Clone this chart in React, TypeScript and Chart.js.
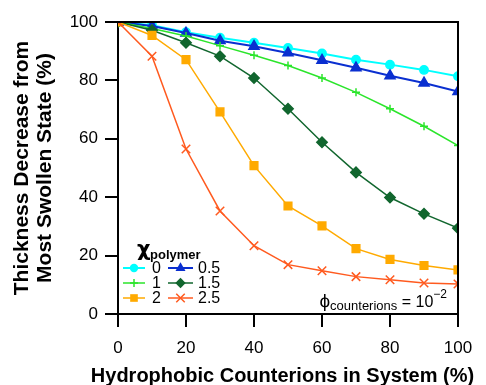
import React, { useEffect, useRef } from 'react';
import { Chart, registerables } from 'chart.js';

Chart.register(...registerables);

// ---- Data ----
const xValues = [0, 10, 20, 30, 40, 50, 60, 70, 80, 90, 100];
const seriesLabels = ['0', '0.5', '1', '1.5', '2', '2.5'];
const chi0 = [100, 98.9, 96.5, 94.6, 92.9, 91.1, 89.2, 87.1, 85.4, 83.6, 81.4];
const chi05 = [100, 98.6, 96.2, 93.6, 91.7, 89.4, 86.9, 84.3, 81.6, 79.1, 76.2];
const chi1 = [100, 97.8, 95.2, 91.9, 88.6, 85.1, 80.8, 75.9, 70.3, 64.3, 57.7];
const chi15 = [100, 97.2, 92.9, 88.3, 80.8, 70.3, 58.8, 48.5, 39.9, 34.3, 29.4];
const chi2 = [100, 95.4, 87.1, 69.2, 50.8, 37.0, 30.2, 22.4, 18.7, 16.6, 15.1];
const chi25 = [100, 88.3, 56.5, 35.3, 23.4, 16.9, 14.8, 12.8, 11.7, 10.6, 10.3];
const xTicks = [0, 20, 40, 60, 80, 100];
const yTicks = [0, 20, 40, 60, 80, 100];
const xTitle = 'Hydrophobic Counterions in System (%)';
const yTitle = ['Thickness Decrease from', 'Most Swollen State (%)'];

const seriesValues = [chi0, chi05, chi1, chi15, chi2, chi25];
const seriesColors = ['#00FFFF', '#0A2FD0', '#2BE52B', '#11662E', '#FFAA00', '#FF5A1F'];
const seriesStyles = ['circle', 'triangle', 'cross', 'rectRot', 'rect', 'crossRot'];
const seriesRadius = [4.2, 5.8, 4, 5.2, 5.4, 6];
const seriesLineWidth = [2, 2, 1.5, 1.5, 1.5, 1.5];

const FONT = "'Liberation Sans', Arial, sans-serif";

function drawMarker(ctx: CanvasRenderingContext2D, style: string, x: number, y: number, r: number, color: string) {
  ctx.save();
  ctx.fillStyle = color;
  ctx.strokeStyle = color;
  ctx.lineWidth = 1.5;
  ctx.beginPath();
  if (style === 'circle') {
    ctx.arc(x, y, r, 0, Math.PI * 2);
    ctx.fill();
  } else if (style === 'triangle') {
    for (let k = 0; k < 3; k++) {
      const a = (k * 2 * Math.PI) / 3;
      const px = x + Math.sin(a) * r;
      const py = y - Math.cos(a) * r;
      if (k === 0) ctx.moveTo(px, py); else ctx.lineTo(px, py);
    }
    ctx.closePath();
    ctx.fill();
  } else if (style === 'rect') {
    const s = Math.SQRT1_2 * r;
    ctx.rect(x - s, y - s, 2 * s, 2 * s);
    ctx.fill();
  } else if (style === 'rectRot') {
    ctx.moveTo(x, y - r);
    ctx.lineTo(x + r, y);
    ctx.lineTo(x, y + r);
    ctx.lineTo(x - r, y);
    ctx.closePath();
    ctx.fill();
  } else if (style === 'cross') {
    ctx.moveTo(x - r, y); ctx.lineTo(x + r, y);
    ctx.moveTo(x, y - r); ctx.lineTo(x, y + r);
    ctx.stroke();
  } else if (style === 'crossRot') {
    const d = Math.SQRT1_2 * r;
    ctx.moveTo(x - d, y - d); ctx.lineTo(x + d, y + d);
    ctx.moveTo(x - d, y + d); ctx.lineTo(x + d, y - d);
    ctx.stroke();
  }
  ctx.restore();
}

const overlayPlugin = {
  id: 'overlay',
  afterDraw(chart: any) {
    const ctx: CanvasRenderingContext2D = chart.ctx;
    const { left, right, top, bottom } = chart.chartArea;
    ctx.save();
    // frame top / right
    ctx.strokeStyle = '#000';
    ctx.lineWidth = 2;
    ctx.beginPath();
    ctx.moveTo(left, top);
    ctx.lineTo(right, top);
    ctx.lineTo(right, bottom);
    ctx.stroke();

    // x axis title
    ctx.fillStyle = '#000';
    ctx.font = `bold 20px ${FONT}`;
    ctx.textAlign = 'center';
    ctx.textBaseline = 'alphabetic';
    ctx.fillText(xTitle, (left + right) / 2 - 5.5, 382);

    // legend
    ctx.textAlign = 'left';
    ctx.font = `bold 21px 'DejaVu Sans', ${FONT}`;
    ctx.fillText('χ', left + 19, bottom - 58);
    ctx.font = `bold 13px ${FONT}`;
    ctx.fillText('polymer', left + 32, bottom - 55);

    const rowsY = [bottom - 46, bottom - 31, bottom - 16];
    const cols = [
      { x0: left + 5, x1: left + 27, tx: left + 34 },
      { x0: left + 50, x1: left + 75, tx: left + 80 },
    ];
    for (let i = 0; i < seriesLabels.length; i++) {
      const col = cols[i % 2];
      const y = rowsY[Math.floor(i / 2)];
      ctx.save();
      ctx.strokeStyle = seriesColors[i];
      ctx.lineWidth = seriesLineWidth[i];
      ctx.beginPath();
      ctx.moveTo(col.x0, y);
      ctx.lineTo(col.x1, y);
      ctx.stroke();
      ctx.restore();
      drawMarker(ctx, seriesStyles[i], (col.x0 + col.x1) / 2, y, seriesRadius[i], seriesColors[i]);
      ctx.fillStyle = '#000';
      ctx.font = `16px ${FONT}`;
      ctx.textBaseline = 'middle';
      ctx.fillText(seriesLabels[i], col.tx, y + 1);
    }

    // annotation phi_counterions = 10^-2
    ctx.textBaseline = 'alphabetic';
    const base = bottom - 7;
    const parts = [
      { t: 'ϕ', f: `19px ${FONT}`, dy: 0 },
      { t: 'counterions', f: `13px ${FONT}`, dy: 3 },
      { t: ' = 10', f: `16px ${FONT}`, dy: 0 },
      { t: '−2', f: `12px ${FONT}`, dy: -9 },
    ];
    let total = 0;
    const widths = parts.map((p) => {
      ctx.font = p.f;
      const w = ctx.measureText(p.t).width;
      total += w;
      return w;
    });
    let x = right - 11 - total;
    parts.forEach((p, i) => {
      ctx.font = p.f;
      ctx.fillText(p.t, x, base + p.dy);
      x += widths[i];
    });
    ctx.restore();
  },
};

export default function App() {
  const ref = useRef<HTMLCanvasElement | null>(null);

  useEffect(() => {
    document.body.style.margin = '0';
    if (!ref.current) return;
    Chart.defaults.font.family = FONT;
    Chart.defaults.color = '#000';

    const datasets = seriesValues.map((vals, i) => ({
      label: seriesLabels[i],
      data: xValues.map((x, j) => ({ x, y: vals[j] })),
      borderColor: seriesColors[i],
      backgroundColor: seriesColors[i],
      borderWidth: seriesLineWidth[i],
      pointStyle: seriesStyles[i],
      pointRadius: seriesRadius[i],
      pointBorderWidth: 1.5,
      pointBorderColor: seriesColors[i],
      pointBackgroundColor: seriesColors[i],
      tension: 0,
      fill: false,
      order: seriesLabels.length - i,
    }));

    const chart = new Chart(ref.current, {
      type: 'line',
      data: { datasets },
      plugins: [overlayPlugin],
      options: {
        animation: false,
        responsive: false,
        devicePixelRatio: 1,
        layout: { padding: { top: 22, right: 28, left: 0, bottom: 0 } },
        plugins: { legend: { display: false }, tooltip: { enabled: false } },
        scales: {
          x: {
            type: 'linear',
            min: 0,
            max: 100,
            afterFit: (s: any) => { s.height = 71; },
            afterBuildTicks: (s: any) => { s.ticks = xTicks.map((v) => ({ value: v })); },
            ticks: { font: { size: 17 }, padding: 11, maxRotation: 0, color: '#000' },
            grid: { drawOnChartArea: false, drawTicks: true, tickLength: 13, color: '#000', lineWidth: 2 },
            border: { display: true, color: '#000', width: 2 },
            title: { display: false },
          },
          y: {
            type: 'linear',
            min: 0,
            max: 100,
            afterFit: (s: any) => { s.width = 118; },
            afterBuildTicks: (s: any) => { s.ticks = yTicks.map((v) => ({ value: v })); },
            ticks: { font: { size: 17 }, padding: 7, color: '#000' },
            grid: { drawOnChartArea: false, drawTicks: true, tickLength: 13, color: '#000', lineWidth: 2 },
            border: { display: true, color: '#000', width: 2 },
            title: {
              display: true,
              text: yTitle,
              font: { size: 21, weight: 'bold', lineHeight: 1.1 },
              color: '#000',
              padding: { top: 10.5, bottom: 0 },
            },
          },
        },
      },
    });
    return () => chart.destroy();
  }, []);

  return (
    <div style={{ width: 486, height: 385 }}>
      <canvas ref={ref} width={486} height={385} style={{ display: 'block' }} />
    </div>
  );
}
